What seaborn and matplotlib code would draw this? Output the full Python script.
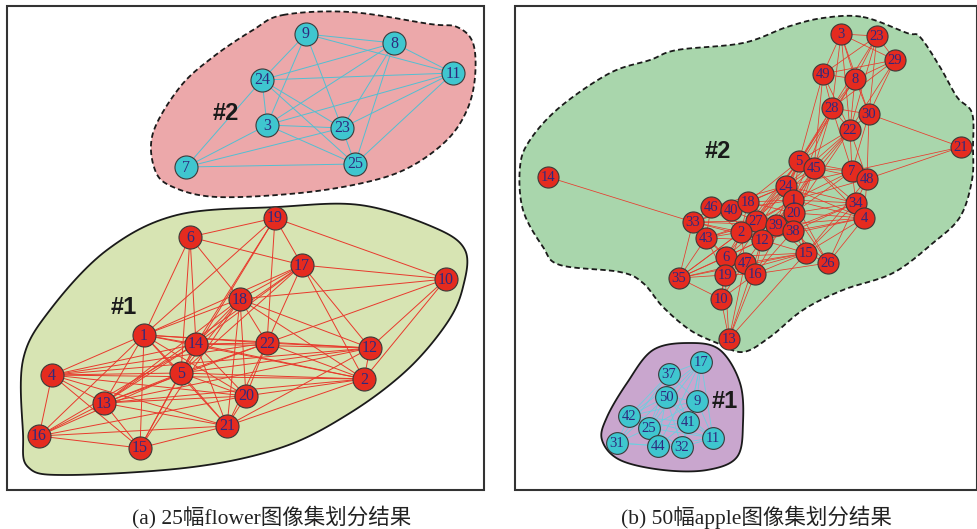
import numpy as np
import matplotlib
matplotlib.use("Agg")
import matplotlib.pyplot as plt
import seaborn as sns
from matplotlib.collections import LineCollection
from matplotlib.patches import Polygon, Rectangle

# ── data (pixel coordinates) ────────────────────────────────────────────────

# (a) flower, cluster #2 (cyan)
a2_ids = ["9", "8", "11", "24", "3", "23", "25", "7"]
a2_x = [306, 394, 453, 262, 267, 342, 355, 186]
a2_y = [34, 43, 73, 80, 125, 128, 164, 167]
a2_edges = [("9", "8"), ("9", "11"), ("9", "24"), ("9", "3"), ("9", "23"),
            ("8", "24"), ("8", "3"), ("8", "11"), ("8", "23"), ("8", "25"),
            ("11", "24"), ("11", "3"), ("11", "23"), ("11", "25"),
            ("24", "3"), ("24", "23"), ("24", "25"), ("24", "7"),
            ("3", "23"), ("3", "25"), ("3", "7"), ("23", "25"), ("23", "7"),
            ("7", "25")]

# (a) flower, cluster #1 (red)
a1_ids = ["19", "6", "17", "10", "18", "1", "14", "22", "12", "4", "5", "2",
          "20", "13", "21", "16", "15"]
a1_x = [275, 190, 302, 446, 240, 144, 196, 267, 370, 52, 181, 364, 246, 104, 227, 39, 140]
a1_y = [218, 237, 265, 279, 299, 335, 344, 343, 348, 375, 373, 379, 396, 403, 426, 436, 448]
a1_edges = [("19", "6"), ("19", "17"), ("19", "10"), ("19", "22"), ("19", "14"), ("19", "5"), ("19", "1"),
            ("6", "17"), ("6", "14"), ("6", "5"), ("6", "1"), ("6", "18"),
            ("17", "10"), ("17", "18"), ("17", "22"), ("17", "12"), ("17", "2"), ("17", "1"),
            ("17", "14"), ("17", "13"), ("17", "5"),
            ("10", "18"), ("10", "22"), ("10", "12"), ("10", "2"),
            ("18", "1"), ("18", "14"), ("18", "22"), ("18", "12"), ("18", "2"), ("18", "20"),
            ("18", "21"), ("18", "13"), ("18", "5"), ("18", "15"),
            ("1", "4"), ("1", "14"), ("1", "22"), ("1", "12"), ("1", "2"), ("1", "5"), ("1", "13"),
            ("1", "15"), ("1", "20"), ("1", "16"), ("1", "21"),
            ("14", "4"), ("14", "22"), ("14", "12"), ("14", "2"), ("14", "13"), ("14", "5"),
            ("14", "21"), ("14", "16"), ("14", "15"), ("14", "20"),
            ("22", "4"), ("22", "12"), ("22", "5"), ("22", "20"), ("22", "21"), ("22", "13"), ("22", "2"),
            ("12", "2"), ("12", "4"), ("12", "5"), ("12", "13"), ("12", "21"),
            ("4", "5"), ("4", "13"), ("4", "16"), ("4", "21"), ("4", "20"), ("4", "15"), ("4", "2"),
            ("5", "13"), ("5", "20"), ("5", "21"), ("5", "15"), ("5", "16"), ("5", "2"),
            ("2", "20"), ("2", "21"), ("2", "13"),
            ("20", "13"), ("20", "21"), ("20", "16"),
            ("13", "16"), ("13", "15"), ("13", "21"),
            ("21", "16"), ("21", "15"), ("16", "15")]

# (b) apple, cluster #2 (red)
b2_ids = ["3", "23", "29", "49", "8", "28", "30", "22", "21", "5", "45", "7", "48", "14",
          "24", "1", "34", "46", "40", "18", "20", "4", "33", "27", "39", "38", "2", "43",
          "12", "15", "26", "6", "47", "19", "16", "35", "10", "13"]
b2_x = [841, 877, 895, 823, 855, 832, 869, 850, 961, 799, 814, 852, 867, 548,
        786, 793, 856, 711, 731, 748, 794, 864, 693, 756, 776, 793, 741, 706,
        762, 806, 828, 726, 745, 725, 755, 679, 721, 729]
b2_y = [34, 36, 60, 74, 79, 108, 114, 130, 147, 161, 168, 171, 179, 177,
        186, 200, 203, 207, 210, 202, 213, 218, 222, 221, 225, 231, 232, 238,
        240, 253, 263, 257, 263, 275, 274, 278, 299, 339]
b2_edges = [("3", "23"), ("3", "29"), ("3", "49"), ("3", "8"), ("3", "28"), ("3", "22"), ("3", "30"),
            ("23", "29"), ("23", "49"), ("23", "8"), ("23", "28"), ("23", "30"), ("23", "22"),
            ("29", "49"), ("29", "8"), ("29", "28"), ("29", "30"), ("29", "22"),
            ("49", "8"), ("49", "28"), ("49", "22"), ("49", "5"), ("49", "45"),
            ("8", "28"), ("8", "30"), ("8", "22"), ("8", "5"), ("8", "24"),
            ("28", "30"), ("28", "22"), ("28", "5"), ("28", "45"), ("28", "24"), ("28", "1"), ("28", "7"),
            ("30", "22"), ("30", "21"), ("30", "48"), ("30", "7"),
            ("22", "5"), ("22", "45"), ("22", "24"), ("22", "1"), ("22", "7"), ("22", "48"), ("22", "20"),
            ("21", "7"), ("21", "48"),
            ("5", "45"), ("5", "7"), ("5", "24"), ("5", "1"), ("5", "18"), ("5", "27"), ("5", "2"),
            ("5", "39"), ("5", "6"),
            ("45", "7"), ("45", "48"), ("45", "24"), ("45", "1"), ("45", "34"), ("45", "4"), ("45", "20"),
            ("45", "38"), ("45", "2"), ("45", "16"),
            ("7", "48"), ("7", "34"), ("7", "1"), ("7", "24"), ("7", "20"),
            ("48", "34"), ("48", "4"), ("48", "1"), ("48", "15"),
            ("24", "1"), ("24", "18"), ("24", "40"), ("24", "46"), ("24", "27"), ("24", "20"),
            ("24", "34"), ("24", "4"), ("24", "2"), ("24", "19"),
            ("1", "20"), ("1", "39"), ("1", "38"), ("1", "27"), ("1", "18"), ("1", "34"), ("1", "4"),
            ("1", "15"), ("1", "12"), ("1", "2"), ("1", "40"), ("1", "6"),
            ("20", "39"), ("20", "38"), ("20", "34"), ("20", "4"), ("20", "15"), ("20", "27"), ("20", "43"),
            ("34", "4"), ("34", "38"), ("34", "15"), ("34", "12"), ("34", "26"),
            ("4", "38"), ("4", "15"), ("4", "26"), ("4", "39"), ("4", "12"),
            ("46", "40"), ("46", "33"), ("46", "18"), ("46", "43"), ("46", "2"),
            ("40", "18"), ("40", "27"), ("40", "33"), ("40", "2"),
            ("18", "27"), ("18", "39"), ("18", "20"), ("18", "2"), ("18", "33"),
            ("27", "39"), ("27", "2"), ("27", "12"), ("27", "38"), ("27", "33"), ("27", "43"),
            ("39", "38"), ("39", "12"), ("39", "15"), ("39", "33"),
            ("2", "12"), ("2", "43"), ("2", "33"), ("2", "6"), ("2", "47"), ("2", "19"), ("2", "38"),
            ("43", "33"), ("43", "6"), ("43", "19"), ("43", "35"), ("43", "12"),
            ("12", "38"), ("12", "15"), ("12", "47"), ("12", "16"), ("12", "6"), ("12", "33"),
            ("38", "15"), ("38", "26"), ("38", "16"),
            ("15", "26"), ("15", "47"), ("15", "16"), ("15", "6"), ("15", "19"), ("15", "35"),
            ("6", "47"), ("6", "19"), ("6", "16"), ("6", "35"), ("6", "10"), ("6", "33"),
            ("47", "16"), ("47", "19"), ("47", "10"), ("47", "13"), ("47", "35"),
            ("19", "16"), ("19", "35"), ("19", "10"), ("19", "13"),
            ("16", "10"), ("16", "13"), ("16", "26"),
            ("35", "33"), ("35", "10"), ("35", "12"), ("35", "2"), ("35", "27"),
            ("10", "13"), ("13", "15"), ("13", "12"), ("33", "14"), ("26", "1"), ("26", "20")]

# (b) apple, cluster #1 (cyan)
b1_ids = ["17", "37", "50", "9", "42", "41", "25", "31", "44", "32", "11"]
b1_x = [701, 669, 666, 697, 629, 688, 649, 617, 658, 682, 713]
b1_y = [362, 374, 397, 401, 416, 422, 428, 443, 446, 447, 438]
b1_edges = [("17", "37"), ("17", "50"), ("17", "9"), ("17", "42"), ("17", "41"), ("17", "25"),
            ("17", "11"), ("17", "32"), ("17", "44"),
            ("37", "50"), ("37", "42"), ("37", "9"), ("37", "41"), ("37", "25"), ("37", "31"),
            ("50", "9"), ("50", "42"), ("50", "41"), ("50", "25"), ("50", "31"), ("50", "44"),
            ("50", "32"), ("50", "11"),
            ("9", "41"), ("9", "25"), ("9", "11"), ("9", "32"), ("9", "42"),
            ("42", "25"), ("42", "31"), ("42", "44"), ("42", "41"), ("42", "11"), ("42", "32"),
            ("41", "25"), ("41", "44"), ("41", "32"), ("41", "11"),
            ("25", "31"), ("25", "44"), ("25", "32"), ("25", "11"),
            ("31", "44"), ("31", "32"), ("44", "32"), ("44", "11"), ("32", "11")]

# cluster region outlines
pink_x = [283, 350, 430, 457, 473, 475, 467, 447, 410, 367, 300, 217, 173, 155, 153, 180, 213, 253]
pink_y = [15, 12, 24, 27, 43, 77, 110, 140, 167, 182, 193, 197, 187, 170, 133, 87, 57, 30]
olive_x = [177, 277, 360, 433, 465, 463, 447, 407, 350, 283, 193, 67, 28, 23, 23, 50, 107]
olive_y = [215, 207, 205, 227, 250, 287, 323, 370, 413, 447, 467, 475, 467, 433, 360, 310, 250]
green_x = [863, 907, 920, 940, 957, 972, 973, 972, 960, 933, 893, 843, 803, 770, 743, 717,
           690, 663, 643, 620, 560, 543, 523, 520, 530, 560, 610, 650, 677, 743, 787, 823]
green_y = [17, 33, 37, 67, 97, 113, 147, 180, 217, 243, 273, 290, 310, 337, 352, 343,
           330, 307, 283, 272, 265, 247, 210, 167, 140, 107, 73, 60, 50, 43, 27, 18]
purple_x = [690, 720, 740, 743, 737, 707, 663, 620, 602, 607, 627, 653]
purple_y = [343, 350, 383, 423, 457, 470, 470, 460, 440, 417, 383, 350]

captions = ["(a) 25幅flower图像集划分结果", "(b) 50幅apple图像集划分结果"]


# ── helpers ───────────────────────────────────────────────────────────────────

def smooth_closed(xs, ys, n=16):
    # closed catmull-rom through the outline points
    P = np.column_stack([xs, ys]).astype(float)
    N = len(P)
    t = np.linspace(0, 1, n, endpoint=False)[:, None]
    out = []
    for i in range(N):
        p0, p1, p2, p3 = P[i - 1], P[i], P[(i + 1) % N], P[(i + 2) % N]
        out.append(0.5 * (2 * p1 + (-p0 + p2) * t + (2 * p0 - 5 * p1 + 4 * p2 - p3) * t ** 2
                          + (-p0 + 3 * p1 - 3 * p2 + p3) * t ** 3))
    return np.vstack(out)


def draw_region(ax, xs, ys, face, dashed):
    pts = smooth_closed(xs, ys)
    ls = (0, (3, 1.8)) if dashed else "-"
    ax.add_patch(Polygon(pts, closed=True, facecolor=face, edgecolor="#1a1a1a",
                         linewidth=1.3, linestyle=ls, zorder=1))


def draw_graph(ax, ids, xs, ys, edges, node_col, edge_col, size, fs, lw=0.7):
    pos = {k: (x, y) for k, x, y in zip(ids, xs, ys)}
    segs = [[pos[a], pos[b]] for a, b in edges]
    ax.add_collection(LineCollection(segs, colors=edge_col, linewidths=lw, zorder=2))
    sns.scatterplot(x=xs, y=ys, s=size, color=node_col, edgecolor="#3a3a3a",
                    linewidth=0.8, ax=ax, zorder=3, legend=False)
    for k, x, y in zip(ids, xs, ys):
        ax.text(x, y + 0.5, k, ha="center", va="center", fontsize=fs,
                family="Liberation Serif", color="#2e2a7e", zorder=4)


# ── figure ────────────────────────────────────────────────────────────────────

sns.set_style("white")
plt.rcParams["font.family"] = ["Liberation Serif", "Noto Sans CJK SC"]

fig = plt.figure(figsize=(9.78, 5.29), dpi=100)
ax = fig.add_axes([0, 0, 1, 1])
ax.set_xlim(0, 978)
ax.set_ylim(529, 0)
ax.axis("off")

# panel frames
ax.add_patch(Rectangle((7, 6), 477, 484, fill=False, edgecolor="#333333", linewidth=1.5, zorder=0))
ax.add_patch(Rectangle((515, 6), 462, 484, fill=False, edgecolor="#333333", linewidth=1.5, zorder=0))

draw_region(ax, pink_x, pink_y, "#eca8aa", True)
draw_region(ax, olive_x, olive_y, "#d7e4b3", False)
draw_region(ax, green_x, green_y, "#a9d6ac", True)
draw_region(ax, purple_x, purple_y, "#c9a6ce", False)

draw_graph(ax, a2_ids, a2_x, a2_y, a2_edges, "#3fc6cf", "#52bfd2", 275, 11.5)
draw_graph(ax, a1_ids, a1_x, a1_y, a1_edges, "#e52b1f", "#e8392c", 275, 11.5, lw=0.7)
draw_graph(ax, b2_ids, b2_x, b2_y, b2_edges, "#e52b1f", "#e8392c", 230, 10.5, lw=0.55)
draw_graph(ax, b1_ids, b1_x, b1_y, b1_edges, "#3fc6cf", "#6ccfe0", 245, 10.5, lw=0.6)

# cluster tags
for x, y, s in [(226, 113, "#2"), (124, 307, "#1"), (718, 152, "#2"), (725, 401, "#1")]:
    ax.text(x, y, s, ha="center", va="center", fontsize=17, fontweight="bold",
            family="Liberation Sans", color="#1a1a1a", zorder=5)

ax.text(272, 517, captions[0], ha="center", va="center", fontsize=15.5, color="#222222")
ax.text(756, 517, captions[1], ha="center", va="center", fontsize=15.5, color="#222222")

fig.savefig("out.png", dpi=100)
